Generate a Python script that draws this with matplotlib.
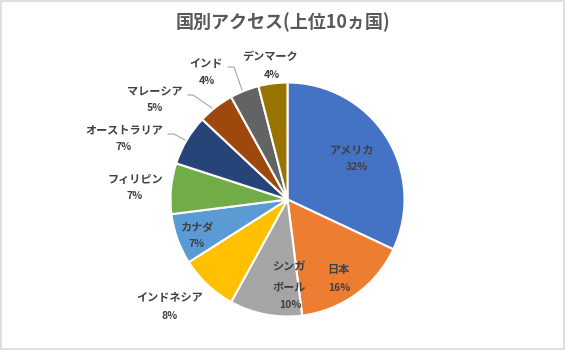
import matplotlib.pyplot as plt
from matplotlib.patches import Rectangle

plt.rcParams['font.family'] = ['Noto Sans CJK JP', 'DejaVu Sans']

countries = ['アメリカ', '日本', 'シンガ\nポール', 'インドネシア', 'カナダ',
             'フィリピン', 'オーストラリア', 'マレーシア', 'インド', 'デンマーク']
shares = [32, 16, 10, 8, 7, 7, 7, 5, 4, 4]
colors = ['#4472C4', '#ED7D31', '#A5A5A5', '#FFC000', '#5B9BD5',
          '#70AD47', '#264478', '#9E480E', '#636363', '#997300']

# label layout in pixels (x, y from top): name position, percent position
name_xy = [(352, 150), (338, 270), (289, 277), (170, 298), (197, 227),
           (135, 179), (124, 130), (155, 92), (206, 63), (270, 57)]
pct_xy = [(357, 167), (339, 288), (290, 305), (170, 316), (197, 244),
          (135, 196), (124, 147), (155, 108), (207, 81), (272, 75)]
# leader lines for outside labels (pixels, y from top)
leaders = {
    6: [(168, 134), (174, 134), (185, 140)],
    7: [(188, 95), (193, 95), (212, 108)],
    8: [(228, 67), (234, 67), (242, 90)],
}

W, H = 565, 350
fig = plt.figure(figsize=(W / 100, H / 100), dpi=100)
ax = fig.add_axes([0, 0, 1, 1])
ax.set_xlim(0, W)
ax.set_ylim(0, H)
ax.axis('off')

ax.add_patch(Rectangle((1, 1), W - 2, H - 2, fill=False, edgecolor='#D9D9D9', linewidth=1.2))

ax.pie(shares, colors=colors, startangle=90, counterclock=False,
       center=(287.5, H - 199.5), radius=117, frame=True,
       wedgeprops=dict(edgecolor='white', linewidth=1.5))
ax.set_xlim(0, W)
ax.set_ylim(0, H)
ax.axis('off')

tc = '#404040'
for i, name in enumerate(countries):
    nx, ny = name_xy[i]
    px, py = pct_xy[i]
    ax.text(nx, H - ny, name, ha='center', va='center', fontsize=8,
            fontweight='bold', color=tc, linespacing=1.7)
    ax.text(px, H - py, f'{shares[i]}%', ha='center', va='center', fontsize=7.5,
            fontweight='bold', color=tc)

for i, pts in leaders.items():
    ax.plot([p[0] for p in pts], [H - p[1] for p in pts], color='#A6A6A6', linewidth=0.8)

ax.text(283, H - 22, '国別アクセス(上位10ヵ国)', ha='center', va='center',
        fontsize=13, fontweight='bold', color='#595959')

fig.savefig('out.png', dpi=100)
